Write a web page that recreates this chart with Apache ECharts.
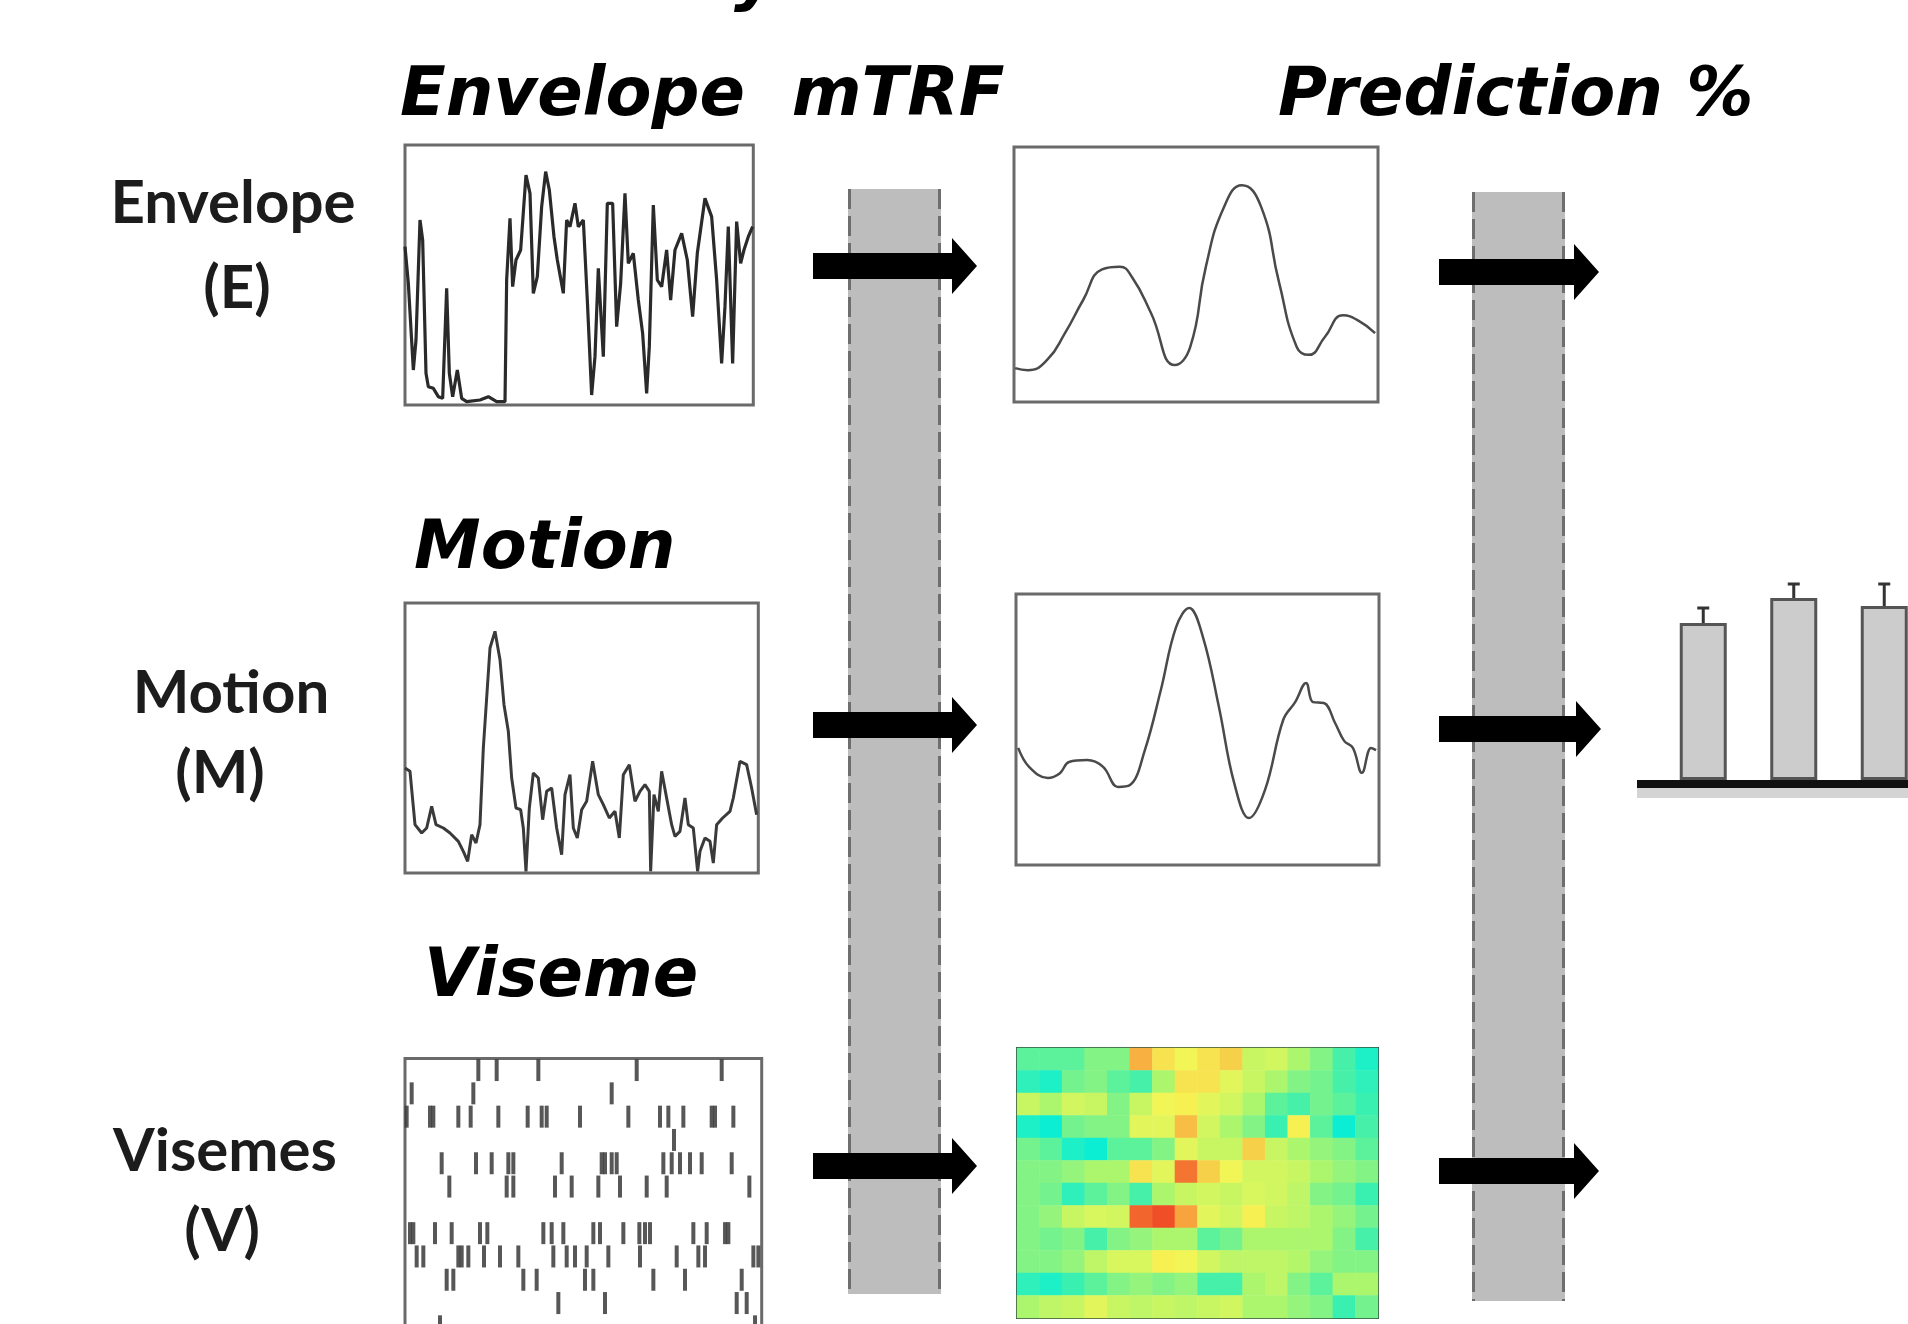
<!DOCTYPE html>
<html>
<head>
<meta charset="utf-8">
<script src="https://cdn.jsdelivr.net/npm/echarts@6/dist/echarts.min.js"></script>
<style>
html, body { margin: 0; padding: 0; background: #fff; }
#chart { width: 1908px; height: 1324px; }
</style>
</head>
<body>
<div id="chart"></div>
<script>
// stimulus traces: [time (samples), amplitude (arb.)]
var envelopeSignal = [
    [0, 47.5], [1, 36.5], [2.5, 10.5], [3.3, 19.5], [4.5, 55.5], [5.3, 49.5], [6.3, 9.5], [7, 5.5],
    [8.5, 5], [10, 2.5], [11.3, 2], [12.5, 35], [13.3, 9.5], [14.3, 2.5], [15.7, 10.5], [17, 2],
    [18.5, 1], [22.5, 1.5], [25, 2.5], [27.5, 1], [30, 1], [30.5, 37.5], [31.5, 56], [32.3, 35.5],
    [33.3, 43.5], [34.7, 46.5], [36.3, 69], [37.5, 63.5], [38.5, 33.5], [39.7, 38.5], [41, 59.5],
    [42.2, 70], [43.3, 64.5], [44.7, 50.5], [45.7, 43.5], [47.5, 33.5], [48.5, 55.5], [49.5, 53.5],
    [51, 60.5], [52, 53.5], [53.5, 55.5], [54.7, 31.5], [56, 3], [57, 14.5], [58, 41], [59.5, 14.5],
    [60.7, 60.5], [62.3, 60.5], [63.5, 23.5], [64.7, 36.5], [66, 63.5], [67, 42.5], [68.5, 45.5],
    [70, 31.5], [71.3, 21.5], [72.5, 3.5], [73.3, 17.5], [74.5, 60], [75.7, 37.5], [77, 35.5],
    [78.5, 46.5], [79.7, 31.5], [81, 46.5], [83, 51.5], [84.7, 43.5], [86.3, 26.5], [87.7, 45.5],
    [90, 62], [92, 56.5], [93.5, 37.5], [95, 12.5], [96, 29.5], [97, 53.5], [98.3, 12.5], [99.5, 55],
    [100.7, 42.5], [101.7, 46.5], [103, 50.5], [104.3, 53.5]
];
var motionSignal = [
    [0, 31.5], [1.5, 30.5], [3, 14.5], [5, 12], [6.5, 13.5], [8, 20], [9.3, 14.5], [11.5, 13.5],
    [13.5, 12], [16, 9.5], [17.5, 6.5], [18.8, 3.5], [20, 11.5], [21.3, 9], [22.5, 14.5], [23.5, 37.5],
    [24.7, 55.5], [25.5, 67.5], [27, 72.5], [28.5, 64], [29.7, 50.5], [31, 42.5], [32, 28.5],
    [33.3, 19.5], [34.7, 19], [35.5, 13.5], [36.3, 0.5], [37.3, 19.5], [38.5, 30], [40, 28.5],
    [41.3, 16], [42.5, 24.5], [44, 25.5], [45.5, 13.5], [47, 5.5], [48, 23.5], [49.5, 29.5],
    [50.5, 13.5], [51.7, 10.5], [53, 19], [54.5, 21.5], [56.3, 33.5], [58, 23.5], [59.5, 20.5],
    [61.3, 16.5], [63, 18.5], [64.3, 10.5], [65.5, 29.5], [67.3, 32.5], [69, 21.5], [70.5, 24.5],
    [72, 26.5], [73.3, 24.5], [73.7, 0.5], [74.7, 23.5], [76, 18.5], [77, 30.5], [78.5, 22.5],
    [80, 14.5], [81, 11], [82.5, 12.5], [84, 22.5], [85, 14.5], [86.5, 13.5], [87.8, 0.5],
    [88.5, 6.5], [90, 10.5], [91.5, 9.5], [92.5, 3], [93.5, 14.5], [95.3, 16.5], [97.5, 18.5],
    [98.5, 22.5], [100.5, 33.5], [102.5, 32.5], [104, 25.5], [105.5, 17.5]
];
// viseme onsets: [time (samples), viseme row]
var visemeEvents = [
    [22, 0], [27.5, 0], [40, 0], [69.5, 0], [95, 0],
    [2, 1], [20.5, 1], [62, 1],
    [0.5, 2], [7.5, 2], [8.5, 2], [16, 2], [19.7, 2], [28, 2], [36.8, 2], [41, 2], [42.5, 2],
    [52.5, 2], [67, 2], [76.5, 2], [79, 2], [83.5, 2], [92, 2], [93, 2], [98.5, 2],
    [80.7, 3],
    [11, 4], [21.3, 4], [26, 4], [31, 4], [32.5, 4], [47, 4], [59, 4], [60, 4], [62, 4], [63.5, 4],
    [77.5, 4], [80, 4], [82.5, 4], [85.5, 4], [89, 4], [98, 4],
    [13.3, 5], [30.5, 5], [32.5, 5], [45, 5], [50, 5], [58, 5], [64.5, 5], [72.5, 5], [78.5, 5], [103.3, 5],
    [1.5, 7], [2.5, 7], [9, 7], [14, 7], [22.5, 7], [24.7, 7], [41.5, 7], [44, 7], [47.5, 7],
    [56.5, 7], [58.5, 7], [65.5, 7], [70.3, 7], [72, 7], [73.5, 7], [86.5, 7], [90.5, 7], [96, 7], [97, 7],
    [3.5, 8], [5.5, 8], [16, 8], [17, 8], [19, 8], [23.7, 8], [28.5, 8], [34, 8], [44.5, 8], [48.5, 8],
    [51, 8], [54.5, 8], [61, 8], [70.5, 8], [81.5, 8], [88, 8], [90, 8], [104.5, 8], [106, 8],
    [12.5, 9], [14.5, 9], [35.5, 9], [39.5, 9], [54, 9], [56.5, 9], [74.5, 9], [84, 9], [101, 9],
    [46, 10], [60, 10], [99.5, 10], [102.5, 10],
    [10.5, 11], [105, 11]
];
// mTRF weights: [lag (% of window), weight (arb.)]
var envelopeTrf = [
    [0.3, 13.3], [3.8, 12.5], [9.1, 16.5], [14, 27], [19, 40], [24.2, 52], [29.1, 53], [32.4, 49],
    [37.6, 35], [44.2, 14.5], [48.4, 21.5], [52.7, 53], [57.7, 76.5], [62.6, 85], [67.9, 76.5],
    [72.8, 47], [77.7, 21.5], [81, 18.5], [85.4, 25.5], [90.4, 34], [94.5, 32], [99.2, 27]
];
var motionTrf = [
    [0.6, 43.2], [3.6, 36.2], [8.8, 32.1], [12.1, 33.9], [14.6, 38], [19.6, 38.7], [24, 36.2],
    [28.1, 28.8], [31.4, 29.5], [35.5, 42.4], [39.9, 64.6], [44.1, 87.8], [47.7, 94.8], [51.5, 84.1],
    [55.9, 58.3], [60.1, 30.3], [64.2, 17.3], [68.6, 27.7], [73.6, 53.5], [76.9, 60.1], [79.9, 67.2],
    [81.8, 60.1], [84.8, 59.8], [87.9, 52.4], [90.4, 45.8], [92.8, 43.2], [95.3, 34], [97.8, 43.2],
    [99.2, 42.4]
];
// viseme mTRF (rows = visemes, columns = lags), normalised weight
var visemeTrf = [
    [0.45, 0.45, 0.45, 0.5, 0.5, 0.8, 0.72, 0.68, 0.72, 0.75, 0.6, 0.62, 0.55, 0.5, 0.42, 0.35],
    [0.38, 0.35, 0.48, 0.5, 0.45, 0.42, 0.55, 0.72, 0.72, 0.65, 0.6, 0.55, 0.5, 0.48, 0.42, 0.38],
    [0.6, 0.55, 0.62, 0.6, 0.5, 0.6, 0.68, 0.7, 0.65, 0.62, 0.55, 0.45, 0.42, 0.48, 0.45, 0.4],
    [0.35, 0.32, 0.48, 0.5, 0.5, 0.65, 0.65, 0.78, 0.62, 0.55, 0.5, 0.4, 0.7, 0.45, 0.32, 0.42],
    [0.48, 0.45, 0.35, 0.32, 0.45, 0.45, 0.5, 0.65, 0.6, 0.6, 0.75, 0.6, 0.55, 0.52, 0.5, 0.45],
    [0.5, 0.5, 0.52, 0.55, 0.55, 0.72, 0.65, 0.88, 0.75, 0.68, 0.62, 0.62, 0.6, 0.55, 0.52, 0.5],
    [0.5, 0.48, 0.38, 0.45, 0.5, 0.42, 0.55, 0.6, 0.62, 0.6, 0.63, 0.62, 0.58, 0.5, 0.48, 0.4],
    [0.5, 0.52, 0.6, 0.63, 0.62, 0.9, 0.93, 0.82, 0.65, 0.62, 0.7, 0.6, 0.58, 0.55, 0.52, 0.48],
    [0.5, 0.48, 0.5, 0.42, 0.5, 0.52, 0.55, 0.55, 0.45, 0.48, 0.55, 0.55, 0.55, 0.55, 0.5, 0.42],
    [0.5, 0.5, 0.52, 0.58, 0.63, 0.63, 0.7, 0.68, 0.62, 0.58, 0.58, 0.58, 0.56, 0.52, 0.5, 0.5],
    [0.38, 0.35, 0.4, 0.45, 0.5, 0.52, 0.5, 0.52, 0.42, 0.42, 0.55, 0.58, 0.5, 0.45, 0.55, 0.55],
    [0.55, 0.58, 0.6, 0.65, 0.6, 0.58, 0.6, 0.58, 0.6, 0.62, 0.55, 0.55, 0.52, 0.5, 0.4, 0.48]
];
// prediction accuracy
var predLabels = ['E', 'M', 'V'];
var predValues = [7.85, 9.1, 8.7];
var predErrors = [0.75, 0.7, 1.1];

var heatData = [];
visemeTrf.forEach(function (row, r) {
    row.forEach(function (v, c) {
        heatData.push([c, r, v]);
    });
});
var lagIdx = visemeTrf[0].map(function (v, i) { return i; });
var visIdx = visemeTrf.map(function (v, i) { return i; });

var headFont = 'italic bold 67px "DejaVu Sans"';
var rowFont = 'bold 60px Lato';

function head(txt, x, y) {
    return { type: 'text', x: x, y: y, z: 20,
        style: { text: txt, font: headFont, fill: '#000', textAlign: 'left', textVerticalAlign: 'middle' } };
}
function rowLabel(txt, x, y) {
    return { type: 'text', x: x, y: y, z: 20,
        style: { text: txt, font: rowFont, fill: '#1c1c1c', textAlign: 'center', textVerticalAlign: 'middle' } };
}
function band(x, y, w, h) {
    return [
        { type: 'rect', z: 5, shape: { x: x, y: y, width: w, height: h }, style: { fill: '#bdbdbd' } },
        { type: 'line', z: 6, shape: { x1: x + 1.5, y1: y, x2: x + 1.5, y2: y + h },
            style: { stroke: '#6e6e6e', lineWidth: 3, lineDash: [20, 7] } },
        { type: 'line', z: 6, shape: { x1: x + w - 1.5, y1: y, x2: x + w - 1.5, y2: y + h },
            style: { stroke: '#6e6e6e', lineWidth: 3, lineDash: [20, 7] } }
    ];
}
function arrow(x0, x1, cy) {
    return { type: 'polygon', z: 10,
        shape: { points: [[x0, cy - 13], [x1 - 25, cy - 13], [x1 - 25, cy - 28], [x1, cy],
            [x1 - 25, cy + 28], [x1 - 25, cy + 13], [x0, cy + 13]] },
        style: { fill: '#000' } };
}

var graphics = [].concat(
    band(848, 189, 93, 1105),
    band(1472, 192, 93, 1109),
    [
        arrow(813, 977, 266), arrow(1439, 1599, 272),
        arrow(813, 977, 725), arrow(1439, 1601, 729),
        arrow(813, 977, 1166), arrow(1439, 1599, 1171),
        { type: 'rect', z: 10, shape: { x: 1637, y: 780, width: 271, height: 8 }, style: { fill: '#111' } },
        { type: 'rect', z: 9, shape: { x: 1637, y: 788, width: 271, height: 10 }, style: { fill: '#d4d4d4' } },
        head('y', 734, -20),
        head('Envelope  mTRF', 400, 98),
        head('Prediction %', 1278, 98),
        head('Motion', 414, 551),
        head('Viseme', 424, 979),
        rowLabel('Envelope', 233, 204),
        rowLabel('(E)', 237, 289),
        rowLabel('Motion', 231, 694),
        rowLabel('(M)', 220, 774),
        rowLabel('Visemes', 225, 1152),
        rowLabel('(V)', 222, 1232)
    ]
);

var box = { show: true, backgroundColor: '#fff', borderColor: '#6a6a6a', borderWidth: 3, outerBoundsMode: 'none' };
function g(left, top, width, height, extra) {
    return Object.assign({ left: left, top: top, width: width, height: height }, box, extra || {});
}
function hiddenVal(idx, min, max, extra) {
    return Object.assign({ gridIndex: idx, type: 'value', min: min, max: max, show: false }, extra || {});
}

var chart = echarts.init(document.getElementById('chart'));
var option = {
    backgroundColor: '#fff',
    animation: false,
    graphic: { elements: graphics },
    grid: [
        g(405, 145, 348.3, 260),
        g(405, 603, 353.3, 270),
        g(405, 1058.4, 356.7, 279.6),
        g(1014, 147, 364, 255),
        g(1016, 594, 363, 271),
        g(1017, 1048, 361, 270, { borderColor: '#34503f', borderWidth: 2 }),
        { left: 1658, top: 560, right: -21.5, height: 220, show: false, outerBoundsMode: 'none' }
    ],
    xAxis: [
        hiddenVal(0, 0, 104.5),
        hiddenVal(1, 0, 106),
        hiddenVal(2, 0, 107),
        hiddenVal(3, 0, 100),
        hiddenVal(4, 0, 100),
        { gridIndex: 5, type: 'category', data: lagIdx, show: false },
        { gridIndex: 6, type: 'category', data: predLabels, show: false }
    ],
    yAxis: [
        hiddenVal(0, 0, 78),
        hiddenVal(1, 0, 81),
        hiddenVal(2, -0.5, 11.5, { inverse: true }),
        hiddenVal(3, 0, 100),
        hiddenVal(4, 0, 100),
        { gridIndex: 5, type: 'category', data: visIdx, inverse: true, show: false },
        hiddenVal(6, 0, 11)
    ],
    visualMap: {
        show: false,
        seriesIndex: 5,
        min: 0.3,
        max: 0.95,
        inRange: { color: ['#00eedc', '#4cf0a4', '#b4f66a', '#f6f654', '#f8a43e', '#ee3e22'] }
    },
    series: [
        {
            type: 'line', xAxisIndex: 0, yAxisIndex: 0, data: envelopeSignal, symbol: 'none',
            lineStyle: { color: '#2a2a2a', width: 3.2 }
        },
        {
            type: 'line', xAxisIndex: 1, yAxisIndex: 1, data: motionSignal, symbol: 'none',
            lineStyle: { color: '#3a3a3a', width: 3 }
        },
        {
            type: 'scatter', xAxisIndex: 2, yAxisIndex: 2, data: visemeEvents,
            symbol: 'rect', symbolSize: [4, 22],
            itemStyle: { color: '#3a3a3a', opacity: 0.85 }
        },
        {
            type: 'line', xAxisIndex: 3, yAxisIndex: 3, data: envelopeTrf, symbol: 'none', smooth: true,
            lineStyle: { color: '#4a4a4a', width: 2.5 }
        },
        {
            type: 'line', xAxisIndex: 4, yAxisIndex: 4, data: motionTrf, symbol: 'none', smooth: 0.4,
            lineStyle: { color: '#4a4a4a', width: 2.5 }
        },
        {
            type: 'heatmap', xAxisIndex: 5, yAxisIndex: 5, data: heatData,
            emphasis: { disabled: true }
        },
        {
            type: 'bar', xAxisIndex: 6, yAxisIndex: 6, data: predValues, barWidth: 47,
            itemStyle: { color: '#cccccc', borderColor: '#555', borderWidth: 3 }
        },
        {
            type: 'custom', xAxisIndex: 6, yAxisIndex: 6,
            data: predValues.map(function (v, i) { return [i, v, predErrors[i]]; }),
            renderItem: function (params, api) {
                var lo = api.coord([api.value(0), api.value(1)]);
                var hi = api.coord([api.value(0), api.value(1) + api.value(2)]);
                return {
                    type: 'group',
                    children: [
                        { type: 'line', shape: { x1: lo[0], y1: lo[1], x2: hi[0], y2: hi[1] },
                            style: { stroke: '#333', lineWidth: 3 } },
                        { type: 'line', shape: { x1: hi[0] - 6, y1: hi[1], x2: hi[0] + 6, y2: hi[1] },
                            style: { stroke: '#333', lineWidth: 3 } }
                    ]
                };
            },
            z: 5
        }
    ]
};
chart.setOption(option);
</script>
</body>
</html>
